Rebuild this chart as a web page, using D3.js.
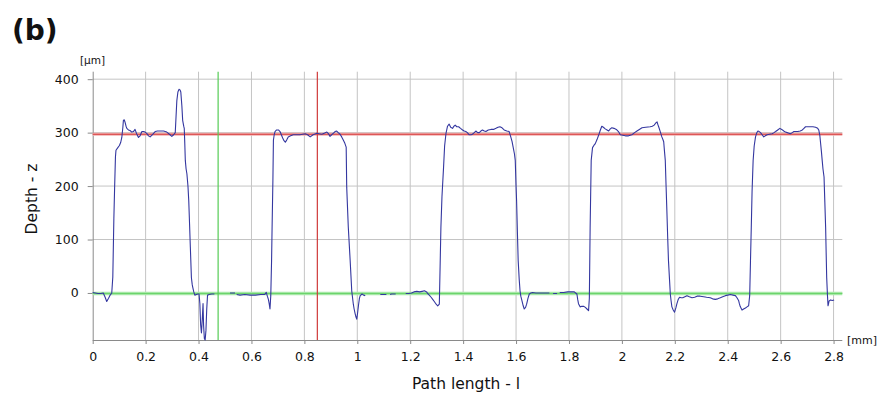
<!DOCTYPE html>
<html>
<head>
<meta charset="utf-8">
<script src="https://cdn.jsdelivr.net/npm/d3@7"></script>
<style>
  html, body { margin: 0; padding: 0; background: #fff; }
  svg { display: block; }
  text { font-family: "DejaVu Sans", sans-serif; fill: #111; }
</style>
</head>
<body>
<svg id="chart" width="884" height="400"></svg>
<script>
// ---- data ----
const xTicks = [0, 0.2, 0.4, 0.6, 0.8, 1, 1.2, 1.4, 1.6, 1.8, 2, 2.2, 2.4, 2.6, 2.8];
const yTicks = [0, 100, 200, 300, 400];
const xDomain = [0, 2.833];
const yDomain = [-88, 414];
const redLevel = 297;      // upper reference line (µm)
const greenLevel = -1;     // lower reference line (µm)
const greenCursor = 0.474; // mm
const redCursor = 0.849;   // mm

// profile path length (mm) and depth (µm); null = no measured data
const pathX = [
0.000,0.010,0.020,0.030,0.040,0.047,0.053,0.060,0.066,0.072,0.076,0.080,0.083,0.086,0.088,0.095,0.101,0.106,0.110,0.114,0.116,0.119,0.122,0.126,0.129,0.135,0.141,0.148,0.154,0.160,0.166,0.173,0.179,0.186,0.192,0.198,0.205,0.211,0.217,0.225,0.236,0.245,0.255,0.268,0.280,0.290,0.299,0.306,0.312,0.315,0.318,0.322,0.326,0.330,0.333,0.337,0.340,0.344,0.346,0.348,0.350,0.353,0.356,0.360,0.363,0.366,0.369,0.373,0.376,0.378,0.382,0.386,0.392,0.398,0.402,0.405,0.408,0.411,0.414,0.417,0.419,0.422,0.425,0.428,0.431,0.434,0.440,0.450,0.460,
0.490,
0.519,0.530,0.538,
0.541,
0.544,0.557,0.575,0.595,0.615,0.635,0.650,0.656,0.660,0.664,0.667,0.670,0.673,0.676,0.678,0.681,0.683,0.686,0.689,0.695,0.702,0.708,0.713,0.718,0.723,0.728,0.733,0.739,0.748,0.758,0.770,0.783,0.793,0.803,0.812,0.822,0.833,0.847,0.856,0.866,0.875,0.885,0.891,0.897,0.903,0.910,0.916,0.922,0.928,0.935,0.941,0.947,0.953,0.958,0.960,0.966,0.973,0.979,0.985,0.988,0.992,0.995,0.998,1.001,1.005,1.008,1.011,1.018,1.024,1.030,
1.060,
1.087,1.100,1.110,
1.117,
1.124,1.130,1.145,
1.165,
1.183,1.195,1.205,1.214,1.225,1.235,1.245,1.254,1.262,1.266,1.272,1.279,1.285,1.291,1.298,1.304,1.310,1.313,1.316,1.320,1.326,1.330,1.335,1.341,1.347,1.353,1.360,1.365,1.370,1.376,1.383,1.390,1.398,1.404,1.410,1.416,1.423,1.430,1.435,1.442,1.448,1.455,1.461,1.467,1.473,1.480,1.486,1.495,1.505,1.515,1.524,1.532,1.539,1.547,1.555,1.565,1.574,1.580,1.585,1.589,1.594,1.597,1.600,1.602,1.605,1.608,1.612,1.615,1.618,1.622,1.627,1.631,1.636,1.640,1.645,1.650,1.656,1.662,1.675,1.690,1.700,1.715,1.726,
1.733,
1.740,1.755,
1.760,
1.765,1.780,1.795,1.810,1.820,1.825,1.830,1.833,1.836,1.842,1.849,1.855,1.862,1.868,1.874,1.877,1.880,1.884,1.889,1.894,1.899,1.906,1.912,1.918,1.924,1.930,1.937,1.944,1.950,1.956,1.962,1.970,1.979,1.987,1.994,2.003,2.013,2.025,2.038,2.048,2.057,2.066,2.076,2.090,2.107,2.115,2.122,2.128,2.133,2.136,2.139,2.145,2.151,2.155,2.158,2.161,2.164,2.167,2.170,2.173,2.176,2.180,2.183,2.186,2.189,2.194,2.199,2.204,2.208,2.213,2.218,2.224,2.230,2.238,2.246,2.255,2.265,2.275,2.284,2.296,2.309,2.320,2.334,2.343,2.353,2.362,2.372,2.381,2.391,2.400,2.410,2.420,2.429,2.435,2.441,2.444,2.447,2.451,2.454,2.460,2.467,2.473,2.479,2.483,2.486,2.489,2.492,2.496,2.500,2.505,2.510,2.514,2.519,2.524,2.530,2.536,2.542,2.549,2.558,2.568,2.575,2.581,2.589,2.597,2.604,2.612,2.618,2.625,2.631,2.637,2.644,2.650,2.658,2.665,2.674,2.682,2.688,2.694,2.703,2.713,2.722,2.732,2.740,2.744,2.748,2.751,2.754,2.757,2.760,2.764,2.767,2.770,2.772,2.774,2.777,2.779,2.781,2.783,2.789,2.795,2.802
];
const depthZ = [
1,0,-1,-1,0,-8,-16,-10,-4,0,30,140,200,255,267,272,276,282,291,310,323,324,320,312,308,305,304,301,302,306,298,291,294,302,302,301,298,294,292,296,302,303,303,303,301,297,293,296,300,330,360,376,381,380,376,350,323,312,308,280,248,232,223,200,173,130,86,29,16,11,2,-4,-3,-2,-2,-20,-60,-75,-50,-20,-60,-85,-88,-70,-30,-4,-3,-2,-2,
null,
0,0,0,
null,
-3,-4,-3,-4,-4,-3,-3,1,-6,-12,-20,-30,-5,60,123,210,286,296,302,305,305,302,296,290,285,282,286,292,294,296,296,296,297,298,296,292,296,299,298,297,299,301,298,293,296,299,302,303,300,297,292,286,280,273,198,123,61,4,-21,-30,-39,-45,-49,-38,-21,-10,-5,-2,-4,-5,
null,
-3,-3,-3,
null,
-3,-2,-2,
null,
-1,-1,0,2,3,2,3,4,2,-1,-4,-8,-12,-16,-21,-24,-21,50,123,180,235,275,298,312,316,310,308,312,314,311,311,308,305,303,302,300,296,296,297,300,303,300,300,303,305,303,302,305,306,306,308,310,311,309,305,303,302,292,283,273,260,248,200,173,115,61,25,4,-6,-14,-24,-30,-27,-21,-10,-2,0,1,0,0,0,0,0,
null,
-1,-1,
null,
1,1,2,2,2,0,-2,-12,-20,-26,-25,-25,-27,-30,-33,-10,123,248,272,276,279,287,295,304,312,310,307,305,303,307,309,308,306,302,296,295,294,294,296,300,303,306,309,310,311,312,314,318,320,315,311,302,292,287,283,265,248,200,154,105,61,25,-2,-15,-26,-32,-36,-28,-20,-12,-8,-9,-9,-7,-5,-7,-9,-8,-6,-6,-7,-8,-9,-11,-12,-11,-9,-7,-5,-4,-3,-4,-5,-9,-14,-20,-25,-29,-32,-30,-28,-26,-24,-5,60,123,190,248,275,292,300,303,302,300,296,292,294,296,297,298,300,302,305,308,306,303,301,300,299,298,300,302,302,302,303,305,308,311,311,311,311,310,308,305,295,280,265,248,232,217,170,123,75,29,-5,-24,-20,-15,-13,-14,-13
];

// ---- layout ----
const svg = d3.select("#chart");
const x = d3.scaleLinear().domain(xDomain).range([92.7, 842.3]);
const y = d3.scaleLinear().domain(yDomain).range([340, 71.7]);
const [x0, x1] = x.range();
const [yb, yt] = y.range();

// grid
const grid = svg.append("g");
grid.selectAll("line.vg").data(xTicks.filter(d => d > 0)).enter().append("line")
  .attr("x1", d => x(d)).attr("x2", d => x(d)).attr("y1", yt).attr("y2", yb)
  .attr("stroke", "#c4c4c4").attr("stroke-width", 1);
grid.selectAll("line.hg").data(yTicks).enter().append("line")
  .attr("x1", x0).attr("x2", x1).attr("y1", d => y(d)).attr("y2", d => y(d))
  .attr("stroke", "#c4c4c4").attr("stroke-width", 1);

// axes
const xAxis = d3.axisBottom(x).tickValues(xTicks).tickSize(4).tickPadding(8)
  .tickFormat(d => d3.format("~g")(d));
const gx = svg.append("g").attr("transform", `translate(0,${yb})`).call(xAxis);
gx.select(".domain").attr("stroke", "#8a8a8a").attr("d", `M${x0},0.5H${x1}`);
gx.selectAll(".tick line").attr("stroke", "#8a8a8a");
gx.selectAll(".tick text").attr("font-family", "DejaVu Sans").attr("font-size", 12.5).attr("fill", "#111");

const yAxis = d3.axisLeft(y).tickValues(yTicks).tickSize(5).tickPadding(9);
const gy = svg.append("g").attr("transform", `translate(${x0},0)`).call(yAxis);
gy.select(".domain").attr("stroke", "#8a8a8a").attr("d", `M0.5,${yt}V${yb}`);
gy.selectAll(".tick line").attr("stroke", "#8a8a8a");
gy.selectAll(".tick text").attr("font-family", "DejaVu Sans").attr("font-size", 12.5).attr("fill", "#111");

// reference lines
svg.append("line").attr("x1", x0).attr("x2", x1).attr("y1", y(greenLevel)).attr("y2", y(greenLevel))
  .attr("stroke", "#a6e8a6").attr("stroke-width", 3.5);
svg.append("line").attr("x1", x0).attr("x2", x1).attr("y1", y(greenLevel)).attr("y2", y(greenLevel))
  .attr("stroke", "#6cd46c").attr("stroke-width", 1);
svg.append("line").attr("x1", x0).attr("x2", x1).attr("y1", y(redLevel)).attr("y2", y(redLevel))
  .attr("stroke", "#f2b0b0").attr("stroke-width", 3);
svg.append("line").attr("x1", x0).attr("x2", x1).attr("y1", y(redLevel)).attr("y2", y(redLevel))
  .attr("stroke", "#d63a3a").attr("stroke-width", 1.2);
svg.append("line").attr("x1", x(greenCursor)).attr("x2", x(greenCursor)).attr("y1", yt).attr("y2", yb)
  .attr("stroke", "#55cc55").attr("stroke-width", 1.2);
svg.append("line").attr("x1", x(redCursor)).attr("x2", x(redCursor)).attr("y1", yt).attr("y2", yb)
  .attr("stroke", "#d03a3a").attr("stroke-width", 1.2);

// profile
const pts = pathX.map((d, i) => [d, depthZ[i]]);
const line = d3.line().defined(d => d[1] !== null).x(d => x(d[0])).y(d => y(d[1]));
svg.append("path").datum(pts).attr("d", line)
  .attr("fill", "none").attr("stroke", "#3437a0").attr("stroke-width", 1.1).attr("stroke-linejoin", "round");

// labels
svg.append("text").attr("x", 12).attr("y", 40).attr("font-family", "Liberation Sans, Arial, sans-serif")
  .attr("font-weight", "bold").attr("font-size", 28).text("(b)");
svg.append("text").attr("x", 80).attr("y", 64).attr("font-size", 10.5).text("[µm]");
svg.append("text").attr("x", 847).attr("y", 344).attr("font-size", 11).text("[mm]");
svg.append("text").attr("transform", "translate(37,199) rotate(-90)").attr("text-anchor", "middle")
  .attr("font-size", 15.5).text("Depth - z");
svg.append("text").attr("x", 466).attr("y", 389).attr("text-anchor", "middle")
  .attr("font-size", 15.5).text("Path length - l");
</script>
</body>
</html>
